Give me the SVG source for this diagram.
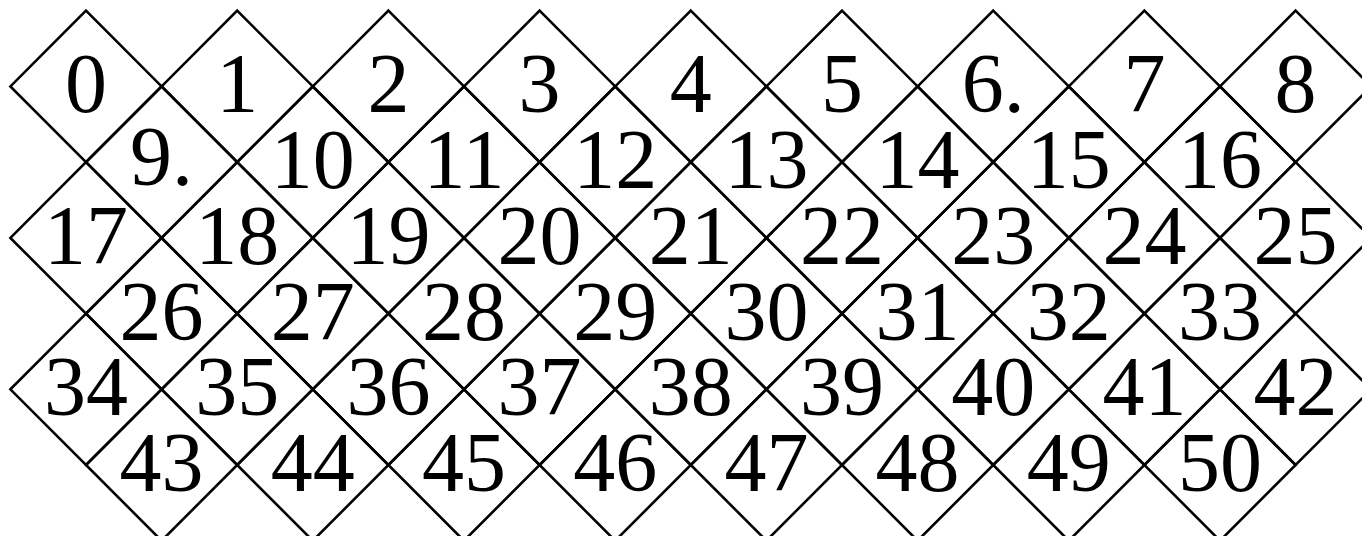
<svg xmlns="http://www.w3.org/2000/svg" width="1362" height="536" viewBox="0 0 1362 536">
<style>
.d{fill:none;stroke:#000;stroke-width:2.6}
text{font-family:"Liberation Serif","Times New Roman",serif;font-size:84px;text-anchor:middle;fill:#000}
</style>
<rect width="1362" height="536" fill="#fff"/>
<g id="connectors"/>
<g id="nodes">
<g id="n0"><polygon class="d" points="86,10.7 161.6,86.4 86,162.1 10.4,86.4"/><text x="86" y="112.4">0</text></g>
<g id="n1"><polygon class="d" points="237.2,10.7 312.8,86.4 237.2,162.1 161.6,86.4"/><text x="237.2" y="112.4">1</text></g>
<g id="n2"><polygon class="d" points="388.4,10.7 464,86.4 388.4,162.1 312.8,86.4"/><text x="388.4" y="112.4">2</text></g>
<g id="n3"><polygon class="d" points="539.6,10.7 615.2,86.4 539.6,162.1 464,86.4"/><text x="539.6" y="112.4">3</text></g>
<g id="n4"><polygon class="d" points="690.8,10.7 766.4,86.4 690.8,162.1 615.2,86.4"/><text x="690.8" y="112.4">4</text></g>
<g id="n5"><polygon class="d" points="842,10.7 917.6,86.4 842,162.1 766.4,86.4"/><text x="842" y="112.4">5</text></g>
<g id="n6"><polygon class="d" points="993.2,10.7 1068.8,86.4 993.2,162.1 917.6,86.4"/><text x="993.2" y="112.4">6.</text></g>
<g id="n7"><polygon class="d" points="1144.4,10.7 1220,86.4 1144.4,162.1 1068.8,86.4"/><text x="1144.4" y="112.4">7</text></g>
<g id="n8"><polygon class="d" points="1295.6,10.7 1371.2,86.4 1295.6,162.1 1220,86.4"/><text x="1295.6" y="112.4">8</text></g>

<g id="n9"><polygon class="d" points="161.6,86.4 237.2,162.1 161.6,237.9 86,162.1"/><text x="161.6" y="185">9.</text></g>
<g id="n10"><polygon class="d" points="312.8,86.4 388.4,162.1 312.8,237.9 237.2,162.1"/><text x="312.8" y="188.1">10</text></g>
<g id="n11"><polygon class="d" points="464,86.4 539.6,162.1 464,237.9 388.4,162.1"/><text x="464" y="188.1">11</text></g>
<g id="n12"><polygon class="d" points="615.2,86.4 690.8,162.1 615.2,237.9 539.6,162.1"/><text x="615.2" y="188.1">12</text></g>
<g id="n13"><polygon class="d" points="766.4,86.4 842,162.1 766.4,237.9 690.8,162.1"/><text x="766.4" y="188.1">13</text></g>
<g id="n14"><polygon class="d" points="917.6,86.4 993.2,162.1 917.6,237.9 842,162.1"/><text x="917.6" y="188.1">14</text></g>
<g id="n15"><polygon class="d" points="1068.8,86.4 1144.4,162.1 1068.8,237.9 993.2,162.1"/><text x="1068.8" y="188.1">15</text></g>
<g id="n16"><polygon class="d" points="1220,86.4 1295.6,162.1 1220,237.9 1144.4,162.1"/><text x="1220" y="188.1">16</text></g>

<g id="n17"><polygon class="d" points="86,162.1 161.6,237.9 86,313.6 10.4,237.9"/><text x="86" y="263.9">17</text></g>
<g id="n18"><polygon class="d" points="237.2,162.1 312.8,237.9 237.2,313.6 161.6,237.9"/><text x="237.2" y="263.9">18</text></g>
<g id="n19"><polygon class="d" points="388.4,162.1 464,237.9 388.4,313.6 312.8,237.9"/><text x="388.4" y="263.9">19</text></g>
<g id="n20"><polygon class="d" points="539.6,162.1 615.2,237.9 539.6,313.6 464,237.9"/><text x="539.6" y="263.9">20</text></g>
<g id="n21"><polygon class="d" points="690.8,162.1 766.4,237.9 690.8,313.6 615.2,237.9"/><text x="690.8" y="263.9">21</text></g>
<g id="n22"><polygon class="d" points="842,162.1 917.6,237.9 842,313.6 766.4,237.9"/><text x="842" y="263.9">22</text></g>
<g id="n23"><polygon class="d" points="993.2,162.1 1068.8,237.9 993.2,313.6 917.6,237.9"/><text x="993.2" y="263.9">23</text></g>
<g id="n24"><polygon class="d" points="1144.4,162.1 1220,237.9 1144.4,313.6 1068.8,237.9"/><text x="1144.4" y="263.9">24</text></g>
<g id="n25"><polygon class="d" points="1295.6,162.1 1371.2,237.9 1295.6,313.6 1220,237.9"/><text x="1295.6" y="263.9">25</text></g>

<g id="n26"><polygon class="d" points="161.6,237.9 237.2,313.6 161.6,389.3 86,313.6"/><text x="161.6" y="339.6">26</text></g>
<g id="n27"><polygon class="d" points="312.8,237.9 388.4,313.6 312.8,389.3 237.2,313.6"/><text x="312.8" y="339.6">27</text></g>
<g id="n28"><polygon class="d" points="464,237.9 539.6,313.6 464,389.3 388.4,313.6"/><text x="464" y="339.6">28</text></g>
<g id="n29"><polygon class="d" points="615.2,237.9 690.8,313.6 615.2,389.3 539.6,313.6"/><text x="615.2" y="339.6">29</text></g>
<g id="n30"><polygon class="d" points="766.4,237.9 842,313.6 766.4,389.3 690.8,313.6"/><text x="766.4" y="339.6">30</text></g>
<g id="n31"><polygon class="d" points="917.6,237.9 993.2,313.6 917.6,389.3 842,313.6"/><text x="917.6" y="339.6">31</text></g>
<g id="n32"><polygon class="d" points="1068.8,237.9 1144.4,313.6 1068.8,389.3 993.2,313.6"/><text x="1068.8" y="339.6">32</text></g>
<g id="n33"><polygon class="d" points="1220,237.9 1295.6,313.6 1220,389.3 1144.4,313.6"/><text x="1220" y="339.6">33</text></g>

<g id="n34"><polygon class="d" points="86,313.6 161.6,389.3 86,465 10.4,389.3"/><text x="86" y="415.3">34</text></g>
<g id="n35"><polygon class="d" points="237.2,313.6 312.8,389.3 237.2,465 161.6,389.3"/><text x="237.2" y="415.3">35</text></g>
<g id="n36"><polygon class="d" points="388.4,313.6 464,389.3 388.4,465 312.8,389.3"/><text x="388.4" y="415.3">36</text></g>
<g id="n37"><polygon class="d" points="539.6,313.6 615.2,389.3 539.6,465 464,389.3"/><text x="539.6" y="415.3">37</text></g>
<g id="n38"><polygon class="d" points="690.8,313.6 766.4,389.3 690.8,465 615.2,389.3"/><text x="690.8" y="415.3">38</text></g>
<g id="n39"><polygon class="d" points="842,313.6 917.6,389.3 842,465 766.4,389.3"/><text x="842" y="415.3">39</text></g>
<g id="n40"><polygon class="d" points="993.2,313.6 1068.8,389.3 993.2,465 917.6,389.3"/><text x="993.2" y="415.3">40</text></g>
<g id="n41"><polygon class="d" points="1144.4,313.6 1220,389.3 1144.4,465 1068.8,389.3"/><text x="1144.4" y="415.3">41</text></g>
<g id="n42"><polygon class="d" points="1295.6,313.6 1371.2,389.3 1295.6,465 1220,389.3"/><text x="1295.6" y="415.3">42</text></g>

<g id="n43"><polygon class="d" points="161.6,389.3 237.2,465 161.6,540.7 86,465"/><text x="161.6" y="491">43</text></g>
<g id="n44"><polygon class="d" points="312.8,389.3 388.4,465 312.8,540.7 237.2,465"/><text x="312.8" y="491">44</text></g>
<g id="n45"><polygon class="d" points="464,389.3 539.6,465 464,540.7 388.4,465"/><text x="464" y="491">45</text></g>
<g id="n46"><polygon class="d" points="615.2,389.3 690.8,465 615.2,540.7 539.6,465"/><text x="615.2" y="491">46</text></g>
<g id="n47"><polygon class="d" points="766.4,389.3 842,465 766.4,540.7 690.8,465"/><text x="766.4" y="491">47</text></g>
<g id="n48"><polygon class="d" points="917.6,389.3 993.2,465 917.6,540.7 842,465"/><text x="917.6" y="491">48</text></g>
<g id="n49"><polygon class="d" points="1068.8,389.3 1144.4,465 1068.8,540.7 993.2,465"/><text x="1068.8" y="491">49</text></g>
<g id="n50"><polygon class="d" points="1220,389.3 1295.6,465 1220,540.7 1144.4,465"/><text x="1220" y="491">50</text></g>
</g>
</svg>
